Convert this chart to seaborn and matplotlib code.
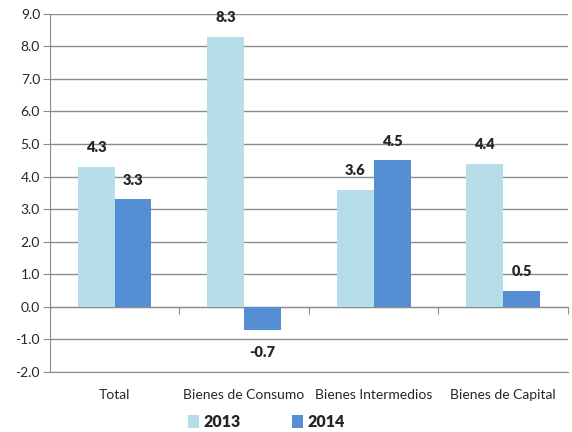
import numpy as np
import pandas as pd
import matplotlib
matplotlib.use("Agg")
import matplotlib.pyplot as plt
import seaborn as sns

# data
categories = ["Total", "Bienes de Consumo", "Bienes Intermedios", "Bienes de Capital"]
years = ["2013", "2014"]
values_2013 = [4.3, 8.3, 3.6, 4.4]
values_2014 = [3.3, -0.7, 4.5, 0.5]

df = pd.DataFrame({
    "categoria": categories * 2,
    "anio": [years[0]] * 4 + [years[1]] * 4,
    "valor": values_2013 + values_2014,
})

sns.set_style("white")
plt.rcParams["font.family"] = ["Lato", "DejaVu Sans"]

colors = {"2013": "#B7DEE8", "2014": "#558ED5"}

fig = plt.figure(figsize=(5.72, 4.32), dpi=100)
ax = fig.add_axes([0.087, 0.139, 0.906, 0.829])

sns.barplot(data=df, x="categoria", y="valor", hue="anio", palette=colors,
            width=0.57, saturation=1, ax=ax, zorder=3, linewidth=0, edgecolor="none")

ax.set_ylim(-2, 9)
ax.set_xlim(-0.5, 3.5)
ax.set_yticks(np.arange(-2, 10, 1))
ax.set_yticklabels([f"{v:.1f}" for v in np.arange(-2, 10, 1)], fontsize=10)
ax.yaxis.grid(True, color="#8c8c8c", linewidth=1, zorder=0)
ax.set_axisbelow(True)
ax.tick_params(axis="y", length=5, color="#8c8c8c", left=True, pad=2)
ax.tick_params(axis="x", length=0, labelsize=10, pad=12)
ax.set_xlabel("")
ax.set_ylabel("")
for s in ["top", "right"]:
    ax.spines[s].set_visible(False)
ax.spines["left"].set_color("#8c8c8c")
ax.spines["bottom"].set_color("#8c8c8c")

# zero line with category boundary ticks
sec = ax.secondary_xaxis(2 / 11)
sec.set_xticks([-0.5, 0.5, 1.5, 2.5, 3.5])
sec.set_xticklabels([])
sec.tick_params(length=5, color="#8c8c8c", direction="out")
sec.spines["bottom"].set_color("#8c8c8c")

# value labels
for cont in ax.containers:
    for bar in cont:
        h = bar.get_height()
        x = bar.get_x() + bar.get_width() / 2
        if h >= 0:
            ax.annotate(f"{h:.1f}", (x, h), xytext=(0, 9), textcoords="offset points",
                        ha="center", va="bottom", fontsize=10.5, fontweight="heavy",
                        annotation_clip=False)
        else:
            ax.annotate(f"{h:.1f}", (x, h), xytext=(0, -12), textcoords="offset points",
                        ha="center", va="top", fontsize=10.5, fontweight="heavy",
                        annotation_clip=False)

leg = ax.legend(loc="center", bbox_to_anchor=(0.418, -0.14), ncol=2, frameon=False,
                prop={"weight": "heavy", "size": 11.5}, handlelength=0.7, handleheight=0.95,
                handletextpad=0.3, columnspacing=3.2)

fig.savefig("out.png", dpi=100)
